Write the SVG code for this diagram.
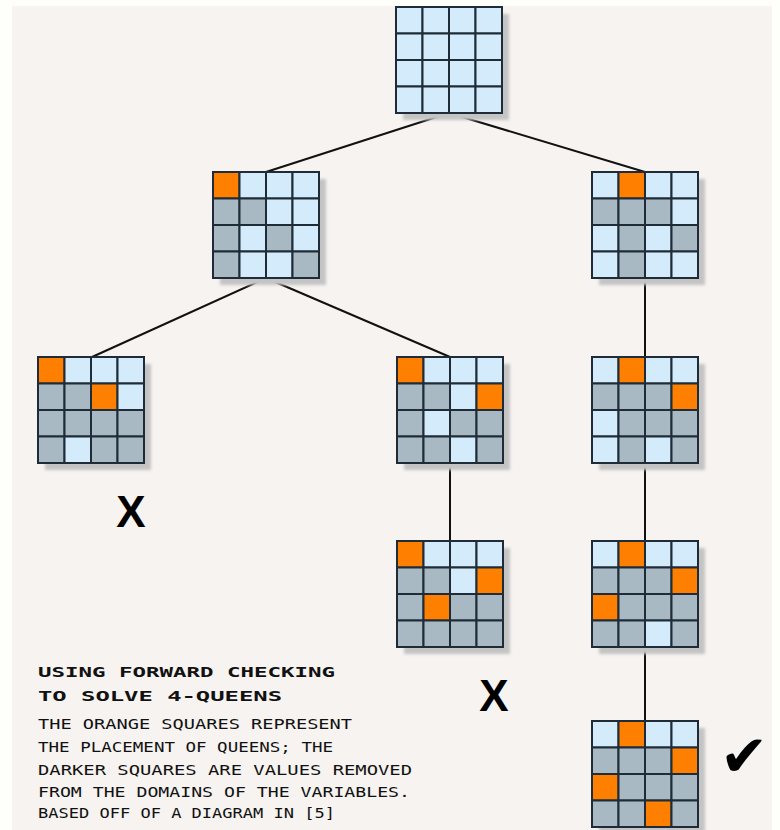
<svg xmlns="http://www.w3.org/2000/svg" width="780" height="830" viewBox="0 0 780 830">
<defs>
<style>
.L{fill:#d3ebfa;stroke:#1f2c38;stroke-width:2}
.D{fill:#a9b9c4;stroke:#1f2c38;stroke-width:2}
.O{fill:#ff7f00;stroke:#1f2c38;stroke-width:2}
.sh{fill:#c4c4c4;filter:url(#blur)}
.edge{stroke:#111;stroke-width:2;fill:none}
.mark{font-family:"Liberation Sans",Arial,sans-serif;font-weight:bold;fill:#000;text-anchor:middle}
.title{font-family:"DejaVu Sans Mono","Liberation Mono",monospace;font-weight:bold;font-size:14px;fill:#111}
.body{font-family:"DejaVu Sans Mono","Liberation Mono",monospace;font-size:13.5px;fill:#111}
</style>
<filter id="blur" x="-10%" y="-10%" width="120%" height="120%"><feGaussianBlur stdDeviation="1.5"/></filter>
</defs>
<rect x="0" y="0" width="780" height="830" fill="#fefefa"/>
<rect x="12" y="6" width="760" height="824" fill="#f6f3f0"/>

<g id="connectors">
<line class="edge" x1="449" y1="113" x2="266" y2="172"/>
<line class="edge" x1="449" y1="113" x2="645" y2="172"/>
<line class="edge" x1="266" y1="278" x2="92" y2="357"/>
<line class="edge" x1="266" y1="278" x2="450" y2="357"/>
<line class="edge" x1="645" y1="278" x2="645" y2="357"/>
<line class="edge" x1="450" y1="463" x2="450" y2="541"/>
<line class="edge" x1="645" y1="463" x2="645" y2="541"/>
<line class="edge" x1="645" y1="647" x2="645" y2="721"/>
</g>

<g id="board0" transform="translate(396,7)">
<rect class="sh" x="7" y="7" width="106" height="106"/>
<rect class="L" x="0" y="0" width="26.5" height="26.5"/><rect class="L" x="26.5" y="0" width="26.5" height="26.5"/><rect class="L" x="53" y="0" width="26.5" height="26.5"/><rect class="L" x="79.5" y="0" width="26.5" height="26.5"/>
<rect class="L" x="0" y="26.5" width="26.5" height="26.5"/><rect class="L" x="26.5" y="26.5" width="26.5" height="26.5"/><rect class="L" x="53" y="26.5" width="26.5" height="26.5"/><rect class="L" x="79.5" y="26.5" width="26.5" height="26.5"/>
<rect class="L" x="0" y="53" width="26.5" height="26.5"/><rect class="L" x="26.5" y="53" width="26.5" height="26.5"/><rect class="L" x="53" y="53" width="26.5" height="26.5"/><rect class="L" x="79.5" y="53" width="26.5" height="26.5"/>
<rect class="L" x="0" y="79.5" width="26.5" height="26.5"/><rect class="L" x="26.5" y="79.5" width="26.5" height="26.5"/><rect class="L" x="53" y="79.5" width="26.5" height="26.5"/><rect class="L" x="79.5" y="79.5" width="26.5" height="26.5"/>
</g>

<g id="board1" transform="translate(213,172)">
<rect class="sh" x="7" y="7" width="106" height="106"/>
<rect class="O" x="0" y="0" width="26.5" height="26.5"/><rect class="L" x="26.5" y="0" width="26.5" height="26.5"/><rect class="L" x="53" y="0" width="26.5" height="26.5"/><rect class="L" x="79.5" y="0" width="26.5" height="26.5"/>
<rect class="D" x="0" y="26.5" width="26.5" height="26.5"/><rect class="D" x="26.5" y="26.5" width="26.5" height="26.5"/><rect class="L" x="53" y="26.5" width="26.5" height="26.5"/><rect class="L" x="79.5" y="26.5" width="26.5" height="26.5"/>
<rect class="D" x="0" y="53" width="26.5" height="26.5"/><rect class="L" x="26.5" y="53" width="26.5" height="26.5"/><rect class="D" x="53" y="53" width="26.5" height="26.5"/><rect class="L" x="79.5" y="53" width="26.5" height="26.5"/>
<rect class="D" x="0" y="79.5" width="26.5" height="26.5"/><rect class="L" x="26.5" y="79.5" width="26.5" height="26.5"/><rect class="L" x="53" y="79.5" width="26.5" height="26.5"/><rect class="D" x="79.5" y="79.5" width="26.5" height="26.5"/>
</g>

<g id="board2" transform="translate(592,172)">
<rect class="sh" x="7" y="7" width="106" height="106"/>
<rect class="L" x="0" y="0" width="26.5" height="26.5"/><rect class="O" x="26.5" y="0" width="26.5" height="26.5"/><rect class="L" x="53" y="0" width="26.5" height="26.5"/><rect class="L" x="79.5" y="0" width="26.5" height="26.5"/>
<rect class="D" x="0" y="26.5" width="26.5" height="26.5"/><rect class="D" x="26.5" y="26.5" width="26.5" height="26.5"/><rect class="D" x="53" y="26.5" width="26.5" height="26.5"/><rect class="L" x="79.5" y="26.5" width="26.5" height="26.5"/>
<rect class="L" x="0" y="53" width="26.5" height="26.5"/><rect class="D" x="26.5" y="53" width="26.5" height="26.5"/><rect class="L" x="53" y="53" width="26.5" height="26.5"/><rect class="D" x="79.5" y="53" width="26.5" height="26.5"/>
<rect class="L" x="0" y="79.5" width="26.5" height="26.5"/><rect class="D" x="26.5" y="79.5" width="26.5" height="26.5"/><rect class="L" x="53" y="79.5" width="26.5" height="26.5"/><rect class="L" x="79.5" y="79.5" width="26.5" height="26.5"/>
</g>

<g id="board3" transform="translate(38,357)">
<rect class="sh" x="7" y="7" width="106" height="106"/>
<rect class="O" x="0" y="0" width="26.5" height="26.5"/><rect class="L" x="26.5" y="0" width="26.5" height="26.5"/><rect class="L" x="53" y="0" width="26.5" height="26.5"/><rect class="L" x="79.5" y="0" width="26.5" height="26.5"/>
<rect class="D" x="0" y="26.5" width="26.5" height="26.5"/><rect class="D" x="26.5" y="26.5" width="26.5" height="26.5"/><rect class="O" x="53" y="26.5" width="26.5" height="26.5"/><rect class="L" x="79.5" y="26.5" width="26.5" height="26.5"/>
<rect class="D" x="0" y="53" width="26.5" height="26.5"/><rect class="D" x="26.5" y="53" width="26.5" height="26.5"/><rect class="D" x="53" y="53" width="26.5" height="26.5"/><rect class="D" x="79.5" y="53" width="26.5" height="26.5"/>
<rect class="D" x="0" y="79.5" width="26.5" height="26.5"/><rect class="L" x="26.5" y="79.5" width="26.5" height="26.5"/><rect class="D" x="53" y="79.5" width="26.5" height="26.5"/><rect class="D" x="79.5" y="79.5" width="26.5" height="26.5"/>
</g>

<g id="board4" transform="translate(397,357)">
<rect class="sh" x="7" y="7" width="106" height="106"/>
<rect class="O" x="0" y="0" width="26.5" height="26.5"/><rect class="L" x="26.5" y="0" width="26.5" height="26.5"/><rect class="L" x="53" y="0" width="26.5" height="26.5"/><rect class="L" x="79.5" y="0" width="26.5" height="26.5"/>
<rect class="D" x="0" y="26.5" width="26.5" height="26.5"/><rect class="D" x="26.5" y="26.5" width="26.5" height="26.5"/><rect class="L" x="53" y="26.5" width="26.5" height="26.5"/><rect class="O" x="79.5" y="26.5" width="26.5" height="26.5"/>
<rect class="D" x="0" y="53" width="26.5" height="26.5"/><rect class="L" x="26.5" y="53" width="26.5" height="26.5"/><rect class="D" x="53" y="53" width="26.5" height="26.5"/><rect class="D" x="79.5" y="53" width="26.5" height="26.5"/>
<rect class="D" x="0" y="79.5" width="26.5" height="26.5"/><rect class="D" x="26.5" y="79.5" width="26.5" height="26.5"/><rect class="L" x="53" y="79.5" width="26.5" height="26.5"/><rect class="D" x="79.5" y="79.5" width="26.5" height="26.5"/>
</g>

<g id="board5" transform="translate(592,357)">
<rect class="sh" x="7" y="7" width="106" height="106"/>
<rect class="L" x="0" y="0" width="26.5" height="26.5"/><rect class="O" x="26.5" y="0" width="26.5" height="26.5"/><rect class="L" x="53" y="0" width="26.5" height="26.5"/><rect class="L" x="79.5" y="0" width="26.5" height="26.5"/>
<rect class="D" x="0" y="26.5" width="26.5" height="26.5"/><rect class="D" x="26.5" y="26.5" width="26.5" height="26.5"/><rect class="D" x="53" y="26.5" width="26.5" height="26.5"/><rect class="O" x="79.5" y="26.5" width="26.5" height="26.5"/>
<rect class="L" x="0" y="53" width="26.5" height="26.5"/><rect class="D" x="26.5" y="53" width="26.5" height="26.5"/><rect class="D" x="53" y="53" width="26.5" height="26.5"/><rect class="D" x="79.5" y="53" width="26.5" height="26.5"/>
<rect class="L" x="0" y="79.5" width="26.5" height="26.5"/><rect class="D" x="26.5" y="79.5" width="26.5" height="26.5"/><rect class="L" x="53" y="79.5" width="26.5" height="26.5"/><rect class="D" x="79.5" y="79.5" width="26.5" height="26.5"/>
</g>

<g id="board6" transform="translate(397,541)">
<rect class="sh" x="7" y="7" width="106" height="106"/>
<rect class="O" x="0" y="0" width="26.5" height="26.5"/><rect class="L" x="26.5" y="0" width="26.5" height="26.5"/><rect class="L" x="53" y="0" width="26.5" height="26.5"/><rect class="L" x="79.5" y="0" width="26.5" height="26.5"/>
<rect class="D" x="0" y="26.5" width="26.5" height="26.5"/><rect class="D" x="26.5" y="26.5" width="26.5" height="26.5"/><rect class="L" x="53" y="26.5" width="26.5" height="26.5"/><rect class="O" x="79.5" y="26.5" width="26.5" height="26.5"/>
<rect class="D" x="0" y="53" width="26.5" height="26.5"/><rect class="O" x="26.5" y="53" width="26.5" height="26.5"/><rect class="D" x="53" y="53" width="26.5" height="26.5"/><rect class="D" x="79.5" y="53" width="26.5" height="26.5"/>
<rect class="D" x="0" y="79.5" width="26.5" height="26.5"/><rect class="D" x="26.5" y="79.5" width="26.5" height="26.5"/><rect class="D" x="53" y="79.5" width="26.5" height="26.5"/><rect class="D" x="79.5" y="79.5" width="26.5" height="26.5"/>
</g>

<g id="board7" transform="translate(592,541)">
<rect class="sh" x="7" y="7" width="106" height="106"/>
<rect class="L" x="0" y="0" width="26.5" height="26.5"/><rect class="O" x="26.5" y="0" width="26.5" height="26.5"/><rect class="L" x="53" y="0" width="26.5" height="26.5"/><rect class="L" x="79.5" y="0" width="26.5" height="26.5"/>
<rect class="D" x="0" y="26.5" width="26.5" height="26.5"/><rect class="D" x="26.5" y="26.5" width="26.5" height="26.5"/><rect class="D" x="53" y="26.5" width="26.5" height="26.5"/><rect class="O" x="79.5" y="26.5" width="26.5" height="26.5"/>
<rect class="O" x="0" y="53" width="26.5" height="26.5"/><rect class="D" x="26.5" y="53" width="26.5" height="26.5"/><rect class="D" x="53" y="53" width="26.5" height="26.5"/><rect class="D" x="79.5" y="53" width="26.5" height="26.5"/>
<rect class="D" x="0" y="79.5" width="26.5" height="26.5"/><rect class="D" x="26.5" y="79.5" width="26.5" height="26.5"/><rect class="L" x="53" y="79.5" width="26.5" height="26.5"/><rect class="D" x="79.5" y="79.5" width="26.5" height="26.5"/>
</g>

<g id="board8" transform="translate(592,721)">
<rect class="sh" x="7" y="7" width="106" height="106"/>
<rect class="L" x="0" y="0" width="26.5" height="26.5"/><rect class="O" x="26.5" y="0" width="26.5" height="26.5"/><rect class="L" x="53" y="0" width="26.5" height="26.5"/><rect class="L" x="79.5" y="0" width="26.5" height="26.5"/>
<rect class="D" x="0" y="26.5" width="26.5" height="26.5"/><rect class="D" x="26.5" y="26.5" width="26.5" height="26.5"/><rect class="D" x="53" y="26.5" width="26.5" height="26.5"/><rect class="O" x="79.5" y="26.5" width="26.5" height="26.5"/>
<rect class="O" x="0" y="53" width="26.5" height="26.5"/><rect class="D" x="26.5" y="53" width="26.5" height="26.5"/><rect class="D" x="53" y="53" width="26.5" height="26.5"/><rect class="D" x="79.5" y="53" width="26.5" height="26.5"/>
<rect class="D" x="0" y="79.5" width="26.5" height="26.5"/><rect class="D" x="26.5" y="79.5" width="26.5" height="26.5"/><rect class="O" x="53" y="79.5" width="26.5" height="26.5"/><rect class="D" x="79.5" y="79.5" width="26.5" height="26.5"/>
</g>

<g id="marks">
<text class="mark" x="131" y="527" font-size="44">X</text>
<text class="mark" x="494" y="711" font-size="44">X</text>
<text x="744" y="776" font-size="58" font-family="DejaVu Sans,sans-serif" fill="#000" text-anchor="middle">✔</text>
</g>

<g id="caption">
<text class="title" x="38" y="677" textLength="297" lengthAdjust="spacingAndGlyphs">USING FORWARD CHECKING</text>
<text class="title" x="38" y="701" textLength="244" lengthAdjust="spacingAndGlyphs">TO SOLVE 4-QUEENS</text>
<text class="body" x="38" y="729" textLength="314" lengthAdjust="spacingAndGlyphs">THE ORANGE SQUARES REPRESENT</text>
<text class="body" x="38" y="752" textLength="295" lengthAdjust="spacingAndGlyphs">THE PLACEMENT OF QUEENS; THE</text>
<text class="body" x="38" y="775" textLength="374" lengthAdjust="spacingAndGlyphs">DARKER SQUARES ARE VALUES REMOVED</text>
<text class="body" x="38" y="797" textLength="372" lengthAdjust="spacingAndGlyphs">FROM THE DOMAINS OF THE VARIABLES.</text>
<text class="body" x="38" y="818" textLength="297" lengthAdjust="spacingAndGlyphs">BASED OFF OF A DIAGRAM IN [5]</text>
</g>
</svg>
